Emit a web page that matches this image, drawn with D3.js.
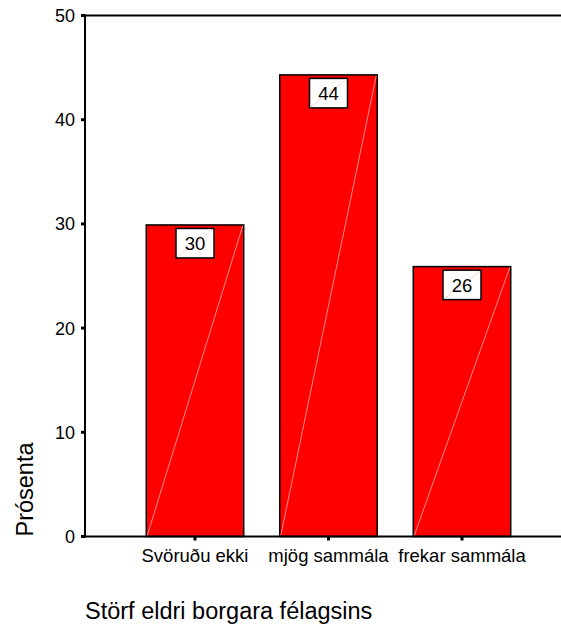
<!DOCTYPE html>
<html><head><meta charset="utf-8">
<script src="https://cdn.jsdelivr.net/npm/d3@7"></script>
<style>body{margin:0;background:#fff;} svg{display:block;font-family:"Liberation Sans",Arial,sans-serif;}</style>
</head><body>
<svg id="c" width="561" height="626"></svg>
<script>
const categories = ["Svöruðu ekki", "mjög sammála", "frekar sammála"];
const values = [29.9, 44.3, 25.9];
const labels = ["30", "44", "26"];
const yTicks = [0, 10, 20, 30, 40, 50];
const yTitle = "Prósenta";
const xTitle = "Störf eldri borgara félagsins";

const svg = d3.select("#c");
const y = d3.scaleLinear().domain([0, 50]).range([536.5, 15.5]);
const x = d3.scaleBand().domain(categories).range([128.25, 528.75]).paddingInner(0.27).paddingOuter(0.135);
const left = 85;

// bars
const g = svg.append("g");
categories.forEach((c, i) => {
  const x0 = x(c), w = x.bandwidth(), yt = y(values[i]), yb = y(0);
  g.append("rect").attr("x", x0).attr("y", yt).attr("width", w).attr("height", yb - yt)
    .attr("fill", "#ff0000").attr("stroke", "#000").attr("stroke-width", 1.5);
  g.append("line").attr("x1", x0 + 1).attr("y1", yb - 1).attr("x2", x0 + w - 1).attr("y2", yt + 1)
    .attr("stroke", "#ffb0b0").attr("stroke-width", 0.8);
  // label box
  const cx = x0 + w / 2, bw = 38, bh = 29.5, by = yt + 3.5;
  g.append("rect").attr("x", cx - bw / 2).attr("y", by).attr("width", bw).attr("height", bh)
    .attr("fill", "#fff").attr("stroke", "#000").attr("stroke-width", 1.5);
  g.append("line").attr("x1", cx - bw / 2 + 1).attr("y1", by + bh - 1).attr("x2", cx + bw / 2 - 1).attr("y2", by + 1)
    .attr("stroke", "#ffc8c8").attr("stroke-width", 0.8);
  g.append("text").attr("x", cx).attr("y", by + bh / 2 + 6.7).attr("text-anchor", "middle")
    .attr("font-size", 18.5).attr("fill", "#000").text(labels[i]);
});

// frame lines
svg.append("line").attr("x1", left).attr("x2", 561).attr("y1", y(50)).attr("y2", y(50)).attr("stroke", "#000").attr("stroke-width", 2);
svg.append("line").attr("x1", left).attr("x2", 561).attr("y1", y(0)).attr("y2", y(0)).attr("stroke", "#000").attr("stroke-width", 2);
svg.append("line").attr("x1", left).attr("x2", left).attr("y1", y(50) - 1).attr("y2", y(0) + 1).attr("stroke", "#000").attr("stroke-width", 2);

// y axis ticks and labels
yTicks.forEach(t => {
  svg.append("rect").attr("x", left - 4).attr("y", y(t) - 1.5).attr("width", 4).attr("height", 3).attr("fill", "#000");
  svg.append("text").attr("x", 75).attr("y", y(t) + 6.4).attr("text-anchor", "end").attr("font-size", 18).text(t);
});

// x ticks and labels
categories.forEach(c => {
  const cx = x(c) + x.bandwidth() / 2;
  svg.append("rect").attr("x", cx - 1.5).attr("y", y(0)).attr("width", 3).attr("height", 4).attr("fill", "#000");
  svg.append("text").attr("x", cx).attr("y", 562).attr("text-anchor", "middle").attr("font-size", 18.5).text(c);
});

svg.append("text").attr("transform", "translate(33,489.5) rotate(-90)").attr("text-anchor", "middle")
  .attr("font-size", 23.5).text(yTitle);
svg.append("text").attr("x", 85).attr("y", 619).attr("font-size", 23.5).text(xTitle);
</script>
</body></html>
